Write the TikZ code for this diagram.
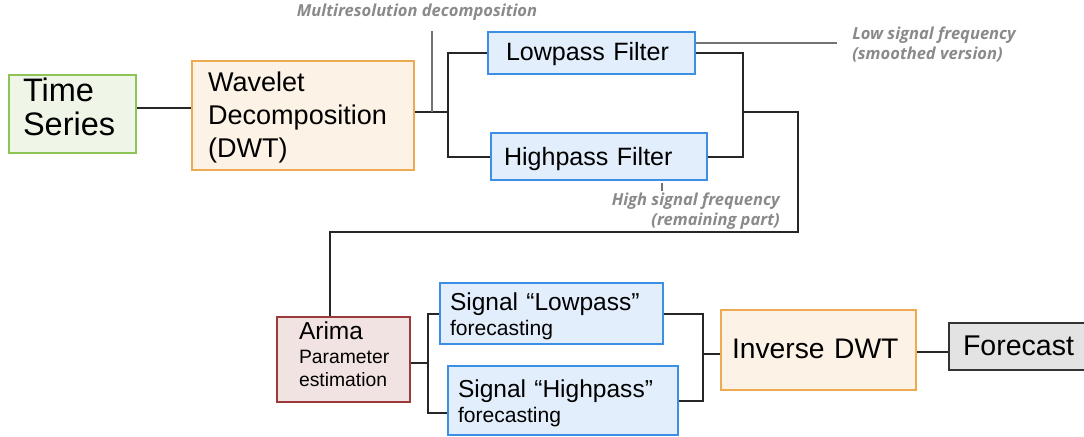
\documentclass[tikz,border=0pt]{standalone}
\usepackage{fontspec}
\setmainfont{Liberation Sans}
\newfontfamily\notefont{Open Sans}
\usetikzlibrary{positioning}

\definecolor{TsGreen}{HTML}{8DC455}
\definecolor{TsFill}{HTML}{EFF6E8}
\definecolor{DwtOrange}{HTML}{EEAA50}
\definecolor{DwtFill}{HTML}{FDF2E6}
\definecolor{FiltBlue}{HTML}{3B8FE5}
\definecolor{FiltFill}{HTML}{E2EEFB}
\definecolor{ArimaRed}{HTML}{9C3A3A}
\definecolor{ArimaFill}{HTML}{F2E3E3}
\definecolor{FcFill}{HTML}{E3E3E3}
\definecolor{NoteGray}{HTML}{8A8A8A}

\newcommand{\drawbox}[8]{% Parameters: name, style, x, y, width, height, padding, text
  \node[#2, minimum width=#5*0.75pt, minimum height=#6*0.75pt,
        inner xsep=#7*0.75pt, text width=(#5-2*#7)*0.75pt] (#1) at (#3,#4) {#8};
}
\newcommand{\fs}[2]{\fontsize{#1pt}{#2pt}\selectfont}

\tikzset{
  box/.style={draw, line width=1.6pt, inner ysep=0pt, align=left},
  tsbox/.style={box, draw=TsGreen, fill=TsFill},
  dwtbox/.style={box, draw=DwtOrange, fill=DwtFill},
  filtbox/.style={box, draw=FiltBlue, fill=FiltFill},
  arimabox/.style={box, draw=ArimaRed, fill=ArimaFill},
  fcbox/.style={box, draw=black!80, fill=FcFill},
  link/.style={draw=black!85, line width=1.5pt},
  noteline/.style={draw=black!55, line width=1.2pt},
  note/.style={text=NoteGray, font=\notefont\bfseries\itshape\fs{12.4}{15}, inner sep=0pt}
}

\begin{document}
\begin{tikzpicture}[x=0.75pt,y=-0.75pt]
  \useasboundingbox (0,0) rectangle (1084,436);

  % top row
  \drawbox{ts}{tsbox, text height=18pt, text depth=37.5pt, font=\fs{24.4}{25.5}}{72.5}{114}{127}{78}{14}{Time\\Series}
  \drawbox{wav}{dwtbox, text height=15pt, text depth=51.75pt, font=\fs{20.3}{24.75}}{303}{115.5}{222}{109}{16}{Wavelet\\Decomposition\\(DWT)}
  \drawbox{low}{filtbox, text height=14pt, text depth=3.5pt, font=\fs{18.8}{22}}{591.5}{53}{207}{42}{18}{Lowpass Filter}
  \drawbox{high}{filtbox, text height=15pt, text depth=2.2pt, font=\fs{18.8}{22}}{599}{156.5}{216}{47}{13}{Highpass Filter}

  % bottom row
  \drawbox{arima}{arimabox, text height=14pt, text depth=44.75pt, font=\fs{18.4}{17.25}}{343.5}{359.5}{133}{85}{22}{Arima\\[5pt]\fs{14.5}{13.5}Parameter\\estimation}
  \drawbox{siglow}{filtbox, text height=14pt, text depth=19.25pt, font=\fs{18.4}{18.75}}{551.5}{313.5}{223}{61}{10}{Signal “Lowpass”\\\fs{15.8}{18.75}forecasting}
  \drawbox{sighigh}{filtbox, text height=14pt, text depth=19.25pt, font=\fs{18.4}{18.75}}{563}{400.5}{230}{69}{10}{Signal “Highpass”\\\fs{15.8}{18.75}forecasting}
  \drawbox{inv}{dwtbox, text height=15pt, text depth=3pt, font=\fs{21.2}{24}}{818.5}{350}{195}{80}{11}{Inverse DWT}
  \drawbox{fc}{fcbox, text height=16pt, text depth=1.8pt, font=\fs{21.4}{24}}{1022}{346.5}{146}{47}{14}{Forecast}

  % notes
  \node[note, anchor=center] (mres) at (417,12) {Multiresolution decomposition};
  \node[note, anchor=west, align=left] (lownote) at (852,44) {Low signal frequency\\(smoothed version)};
  \node[note, anchor=east, align=right] (highnote) at (780,211) {High signal frequency\\(remaining part)};

  \coordinate (split) at (448,112);
  \coordinate (mtick) at (432,31);
  \coordinate (merge) at (743,112);
  \coordinate (turn) at (798,232);
  \coordinate (lowend) at (837,43);
  \coordinate (htop) at (662,183);
  \coordinate (hbot) at (662,191);
  \coordinate (split2) at (428,363);
  \coordinate (merge2) at (703,354);

  % connectors
  \draw[link] ([yshift=4.5pt]ts.east) -- ([yshift=4.5pt]ts.east -| wav.west);
  \draw[link] (wav.east |- split) -- (split);
  \draw[link] (low.west) -| (split) |- (high.west);
  \draw[link] (low.east) -| (merge) |- (high.east);
  \draw[link] (merge) -| (turn) -| ([xshift=-10pt]arima.north);
  \draw[link] (arima.east |- split2) -- (split2);
  \draw[link] (siglow.west) -| (split2) |- ([yshift=-9pt]sighigh.west);
  \draw[link] (siglow.east) -| (merge2) |- (sighigh.east);
  \draw[link] (merge2) -- (merge2 -| inv.west);
  \draw[link] ([yshift=-1.5pt]inv.east) -- ([yshift=-1.5pt]inv.east -| fc.west);

  % note ticks
  \draw[noteline] (mtick) -- (mtick |- split);
  \draw[noteline] ([yshift=7.5pt]low.east) -- (lowend);
  \draw[noteline] (htop) -- (hbot);
\end{tikzpicture}
\end{document}
